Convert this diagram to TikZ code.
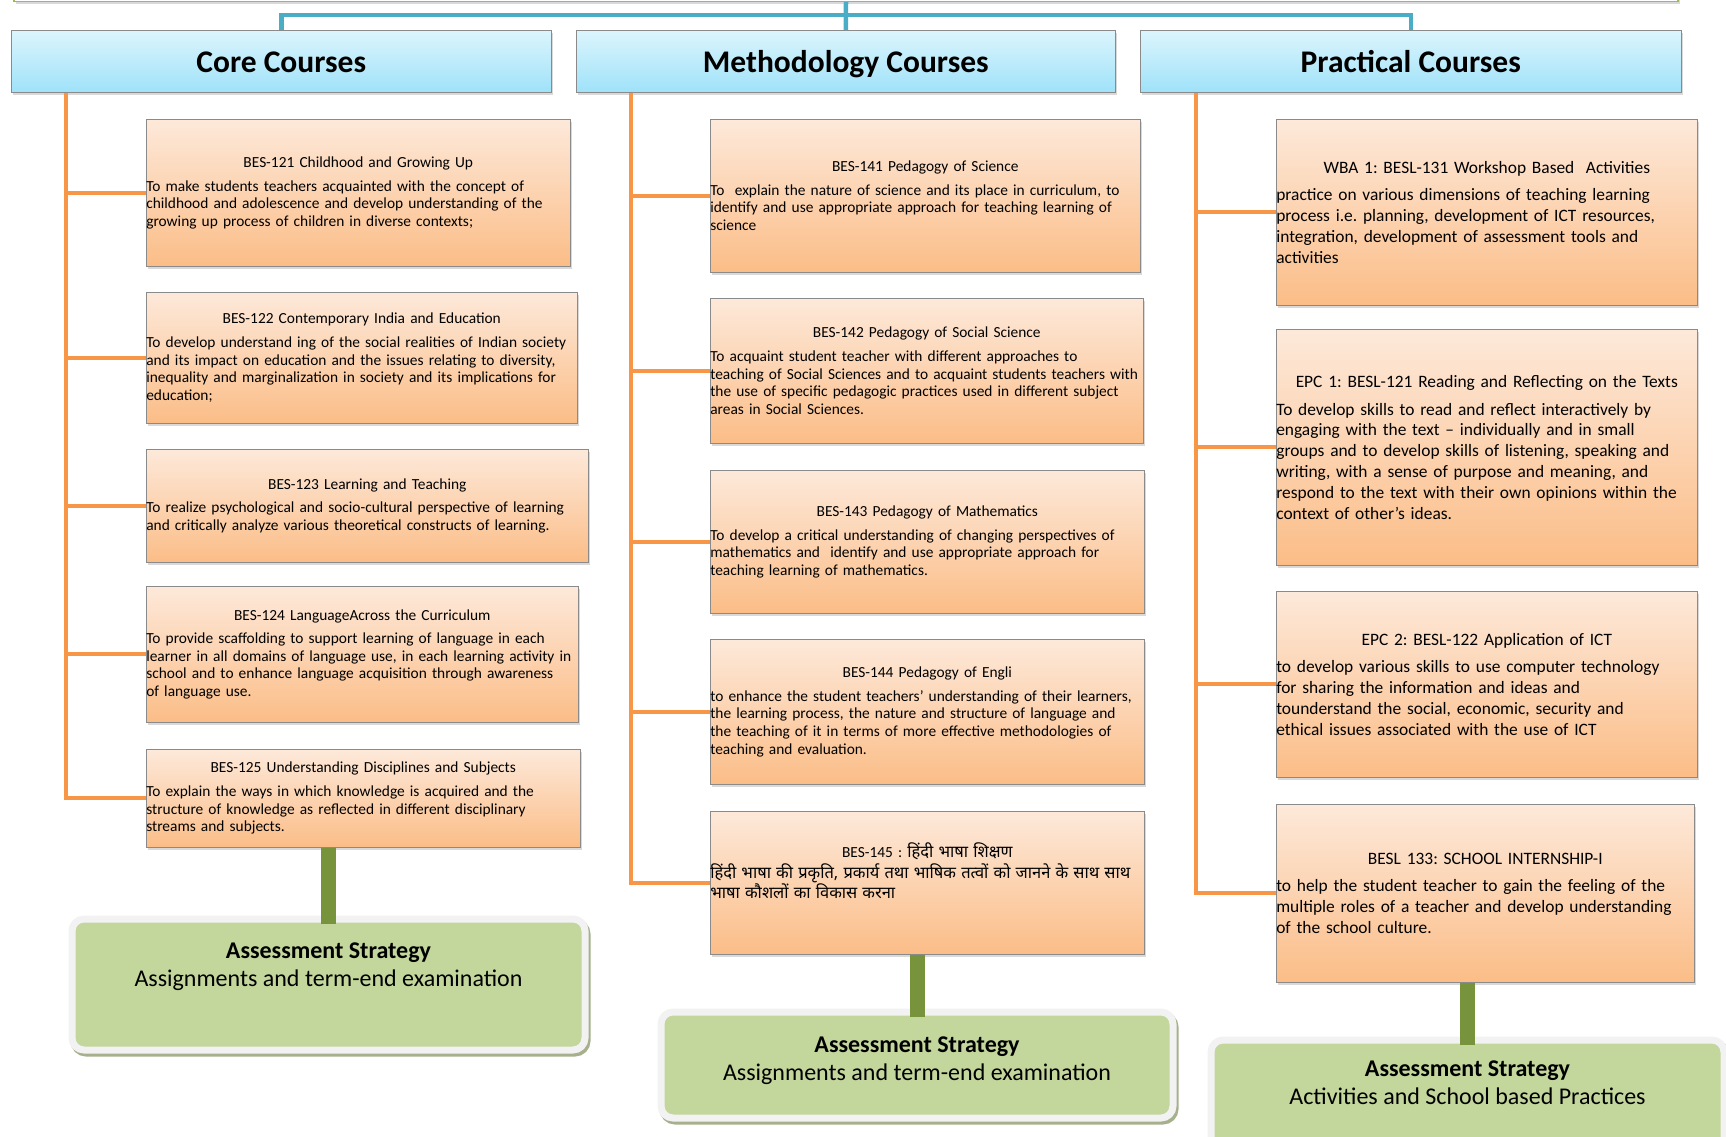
\documentclass[tikz,border=0pt]{standalone}
\usepackage{fontspec}
\setmainfont{Carlito}
\newfontfamily\hindi[Script=Devanagari,Scale=1.07]{Noto Sans}
\usetikzlibrary{shadows}
\frenchspacing

\definecolor{boxgray}{HTML}{8A8A8A}
\definecolor{cytop}{HTML}{DCF5FD}
\definecolor{cybot}{HTML}{9FE2F9}
\definecolor{ortop}{HTML}{FDE9DA}
\definecolor{orbot}{HTML}{FBBD87}
\definecolor{orline}{HTML}{F79646}
\definecolor{bluelink}{HTML}{4BACC6}
\definecolor{stemgreen}{HTML}{77933C}
\definecolor{assessgreen}{HTML}{C3D69B}
\definecolor{rimgray}{HTML}{F2F2F2}
\definecolor{assshadow}{HTML}{A6B08C}
\definecolor{topgreen}{HTML}{9BBB59}

\begin{document}
\begin{tikzpicture}[x=1pt,y=-1pt,semithick]
        \tikzstyle{every node}=[inner sep=0pt]
        \tikzstyle{boxshadow}=[drop shadow={shadow xshift=2pt,shadow yshift=-3pt,opacity=0.3}]
        \tikzstyle{topbox}=[rectangle,draw=topgreen,line width=1.5pt,fill=white,boxshadow]
        \tikzstyle{head}=[rectangle,anchor=north west,draw=boxgray,top color=cytop,bottom color=cybot,boxshadow,minimum height=62pt,
            text height=28.6pt,text depth=7pt,font=\bfseries\fontsize{31.5}{36}\selectfont]
        \tikzstyle{course}=[rectangle,anchor=north west,draw=boxgray,top color=ortop,bottom color=orbot,boxshadow,align=left,font=\fontsize{15.4}{17.6}\selectfont]
        \tikzstyle{practical}=[course,font=\fontsize{17.4}{20.8}\selectfont]
        \tikzstyle{assess}=[rectangle,anchor=north west,rounded corners=12pt,draw=rimgray,line width=7pt,fill=assessgreen,
            drop shadow={shadow xshift=2pt,shadow yshift=-3pt,opacity=1,fill=assshadow,draw=assshadow,line width=7pt},
            align=center,font=\fontsize{24}{28}\selectfont]
        \tikzstyle{branch}=[draw=orline,line width=4pt,to path={|- (\tikztotarget)}]
        \tikzstyle{link}=[draw=bluelink,line width=4.5pt]
        \tikzstyle{stem}=[draw=stemgreen,line width=15pt,shorten >=-8pt]

        \useasboundingbox (0,0) rectangle (1726,1136);

        % top box and the three headers
        \node[topbox,minimum width=1664pt,minimum height=40pt,anchor=south] (top) at (846,2) {};
        \coordinate (hub) at (846,15);
        \node[head,minimum width=540pt] (core) at (11,30)   {Core Courses};
        \node[head,minimum width=539pt] (meth) at (576,30)  {Methodology Courses};
        \node[head,minimum width=541pt] (prac) at (1140,30) {Practical Courses};
        \draw[link] (core.north) |- (hub) -| (prac.north);
        \draw[link] (top.south) -- (meth.north);

        % core courses
        \node[course,minimum width=424pt,text width=424pt,minimum height=147pt] (c1) at (146,119)
            {\centering BES-121 Childhood and Growing Up\par\vspace{6pt}\raggedright
             To make students teachers acquainted with the concept of\\
             childhood and adolescence and develop understanding of the\\
             growing up process of children in diverse contexts;};
        \node[course,minimum width=431pt,text width=431pt,minimum height=131pt] (c2) at (146,292)
            {\centering BES-122 Contemporary India and Education\par\vspace{6pt}\raggedright
             To develop understand ing of the social realities of Indian society\\
             and its impact on education and the issues relating to diversity,\\
             inequality and marginalization in society and its implications for\\
             education;};
        \node[course,minimum width=442pt,text width=442pt,minimum height=113pt] (c3) at (146,449)
            {\centering BES-123 Learning and Teaching\par\vspace{6pt}\raggedright
             To realize psychological and socio-cultural perspective of learning\\
             and critically analyze various theoretical constructs of learning.};
        \node[course,minimum width=432pt,text width=432pt,minimum height=136pt] (c4) at (146,586)
            {\centering BES-124 LanguageAcross the Curriculum\par\vspace{6pt}\raggedright
             To provide scaffolding to support learning of language in each\\
             learner in all domains of language use, in each learning activity in\\
             school and to enhance language acquisition through awareness\\
             of language use.};
        \node[course,minimum width=434pt,text width=434pt,minimum height=98pt] (c5) at (146,749)
            {\centering BES-125 Understanding Disciplines and Subjects\par\vspace{6pt}\raggedright
             To explain the ways in which knowledge is acquired and the\\
             structure of knowledge as reflected in different disciplinary\\
             streams and subjects.};

        % methodology courses
        \node[course,minimum width=430pt,text width=430pt,minimum height=153pt] (m1) at (710,119)
            {\centering BES-141 Pedagogy of Science\par\vspace{6pt}\raggedright
             To~ explain the nature of science and its place in curriculum, to\\
             identify and use appropriate approach for teaching learning of\\
             science};
        \node[course,minimum width=433pt,text width=433pt,minimum height=145pt] (m2) at (710,298)
            {\centering BES-142 Pedagogy of Social Science\par\vspace{6pt}\raggedright
             To acquaint student teacher with different approaches to\\
             teaching of Social Sciences and to acquaint students teachers with\\
             the use of specific pedagogic practices used in different subject\\
             areas in Social Sciences.};
        \node[course,minimum width=434pt,text width=434pt,minimum height=143pt] (m3) at (710,470)
            {\centering BES-143 Pedagogy of Mathematics\par\vspace{6pt}\raggedright
             To develop a critical understanding of changing perspectives of\\
             mathematics and~ identify and use appropriate approach for\\
             teaching learning of mathematics.};
        \node[course,minimum width=434pt,text width=434pt,minimum height=145pt] (m4) at (710,639)
            {\centering BES-144 Pedagogy of Engli\par\vspace{6pt}\raggedright
             to enhance the student teachers’ understanding of their learners,\\
             the learning process, the nature and structure of language and\\
             the teaching of it in terms of more effective methodologies of\\
             teaching and evaluation.};
        \node[course,minimum width=434pt,text width=434pt,minimum height=143pt] (m5) at (710,811)
            {\centering BES-145 : {\hindi हिंदी भाषा शिक्षण}\par\vspace{4pt}\raggedright
             {\hindi हिंदी भाषा की प्रकृति, प्रकार्य तथा भाषिक तत्वों को जानने के साथ साथ}\\
             {\hindi भाषा कौशलों का विकास करना}\\[7pt]\mbox{}};

        % practical courses
        \node[practical,minimum width=421pt,text width=421pt,minimum height=186pt] (p1) at (1276,119)
            {\centering WBA 1: BESL-131 Workshop Based~ Activities\par\vspace{7pt}\raggedright
             practice on various dimensions of teaching learning\\
             process i.e. planning, development of ICT resources,\\
             integration, development of assessment tools and\\
             activities};
        \node[practical,minimum width=421pt,text width=421pt,minimum height=236pt] (p2) at (1276,329)
            {\centering EPC 1: BESL-121 Reading and Reflecting on the Texts\par\vspace{7pt}\raggedright
             To develop skills to read and reflect interactively by\\
             engaging with the text -- individually and in small\\
             groups and to develop skills of listening, speaking and\\
             writing, with a sense of purpose and meaning, and\\
             respond to the text with their own opinions within the\\
             context of other’s ideas.};
        \node[practical,minimum width=421pt,text width=421pt,minimum height=186pt] (p3) at (1276,591)
            {\centering EPC 2: BESL-122 Application of ICT\par\vspace{7pt}\raggedright
             to develop various skills to use computer technology\\
             for sharing the information and ideas and\\
             tounderstand the social, economic, security and\\
             ethical issues associated with the use of ICT};
        \node[practical,minimum width=418pt,text width=418pt,minimum height=178pt] (p4) at (1276,804)
            {\centering BESL 133: SCHOOL INTERNSHIP-I\par\vspace{7pt}\raggedright
             to help the student teacher to gain the feeling of the\\
             multiple roles of a teacher and develop understanding\\
             of the school culture.};

        % orange trunks
        \coordinate (ct) at ([xshift=55pt]core.south west);
        \coordinate (mt) at ([xshift=55pt]meth.south west);
        \coordinate (pt) at ([xshift=56pt]prac.south west);
    \path   (ct) edge[branch] (c1.west)
                 edge[branch] (c2.west)
                 edge[branch] (c3.west)
                 edge[branch] (c4.west)
                 edge[branch] (c5.west)
            (mt) edge[branch] (m1.west)
                 edge[branch] (m2.west)
                 edge[branch] (m3.west)
                 edge[branch] (m4.west)
                 edge[branch] (m5.west)
            (pt) edge[branch] (p1.west)
                 edge[branch] (p2.west)
                 edge[branch] (p3.west)
                 edge[branch] (p4.west);

        % assessment
        \node[assess,minimum width=513pt,minimum height=131pt] (a1) at (68.5,915.5)
            {\bfseries Assessment Strategy\\ Assignments and term-end examination\\[12pt]\mbox{}};
        \node[assess,minimum width=512pt,minimum height=106pt] (a2) at (657.5,1008.5)
            {\bfseries Assessment Strategy\\ Assignments and term-end examination\\[-15pt]\mbox{}};
        \node[assess,minimum width=513pt,minimum height=131pt] (a3) at (1207.5,1036.5)
            {\bfseries Assessment Strategy\\ Activities and School based Practices\\[17pt]\mbox{}};

    \path   (a1.north |- c5.south) edge[stem] (a1.north)
            (a2.north |- m5.south) edge[stem] (a2.north)
            (a3.north |- p4.south) edge[stem] (a3.north);
    \end{tikzpicture}
\end{document}
